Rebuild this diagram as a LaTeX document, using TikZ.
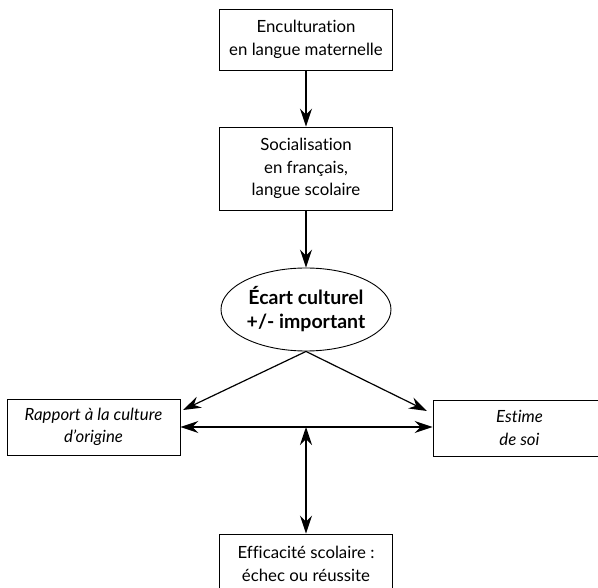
\documentclass[tikz,border=0pt]{standalone}
\usepackage{fontspec}
\setmainfont{Lato}[RawFeature=-liga]
\usetikzlibrary{arrows.meta,shapes.geometric}
\begin{document}
\begin{tikzpicture}[x=1pt,y=-1pt,
  every node/.style={font=\fontsize{16.8}{22.5}\selectfont, align=center, inner sep=0pt},
  boxnode/.style={draw, line width=0.9pt, minimum width=173pt},
  ellnode/.style={draw, ellipse, line width=0.9pt, minimum width=170pt, minimum height=83pt, font=\fontsize{19.5}{24}\selectfont\bfseries},
  arr/.style={line width=1.2pt, -{Stealth[length=18pt,width=12pt,inset=6pt]}},
  darr/.style={line width=1.2pt, {Stealth[length=18pt,width=12pt,inset=6pt]}-{Stealth[length=18pt,width=12pt,inset=6pt]}}]
\useasboundingbox (0,0) rectangle (598,588);
\clip (0,0) rectangle (598,588);
\node[boxnode, minimum height=61pt] (enc) at (306,39.5) {Enculturation\\en langue maternelle};
\node[boxnode, minimum height=83pt] (soc) at (306,168.5) {Socialisation\\en français,\\langue scolaire};
\node[ellnode] (ecart) at (306,309.5) {Écart culturel\\+/- important};
\node[boxnode, minimum height=56pt] (rap) at (93.5,427) {\itshape Rapport à la culture\\\itshape d’origine};
\node[boxnode, minimum height=56pt] (est) at (519.5,428) {\itshape Estime\\\itshape de soi};
\node[boxnode, minimum height=60pt] (eff) at (306,564) {Efficacité scolaire :\\échec ou réussite};
\coordinate (tl) at (183,410);
\coordinate (tr) at (427,411);
\draw[arr] (enc.south) -- (soc.north);
\draw[arr] (soc.south) -- (ecart.north);
\draw[arr] (ecart.south) -- (tl);
\draw[arr] (ecart.south) -- (tr);
\draw[darr] (rap.east) -- (rap.east -| est.west);
\coordinate (hm) at (ecart.south |- rap.east);
\draw[darr] (ecart.south |- eff.north) -- (hm);
\end{tikzpicture}
\end{document}
